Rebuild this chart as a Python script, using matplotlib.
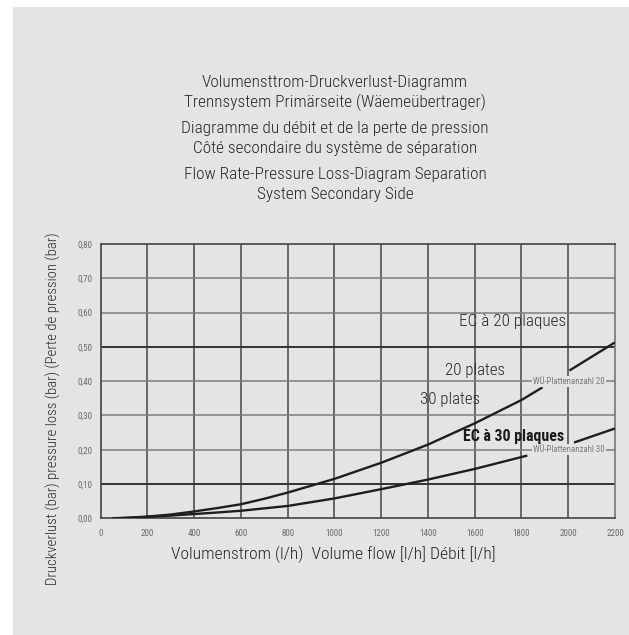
import matplotlib
matplotlib.use("Agg")
import matplotlib.pyplot as plt
from matplotlib import font_manager
from matplotlib.patches import Rectangle

# ---- data -------------------------------------------------------------
flow_20a = [50, 100, 200, 300, 400, 500, 600, 700, 800, 1000, 1200, 1400, 1600, 1800, 1890]
loss_20a = [0.0, 0.001, 0.005, 0.011, 0.020, 0.030, 0.041, 0.057, 0.075, 0.115, 0.162, 0.215, 0.277, 0.345, 0.382]
flow_20b = [2005, 2200]
loss_20b = [0.431, 0.513]

flow_30a = [50, 100, 200, 300, 400, 500, 600, 700, 800, 1000, 1200, 1400, 1600, 1825]
loss_30a = [0.0, 0.001, 0.004, 0.008, 0.0125, 0.017, 0.022, 0.029, 0.036, 0.058, 0.085, 0.113, 0.144, 0.183]
flow_30b = [2025, 2200]
loss_30b = [0.221, 0.262]

x_ticks = list(range(0, 2201, 200))
y_ticks = [0.0, 0.1, 0.2, 0.3, 0.4, 0.5, 0.6, 0.7, 0.8]
y_tick_labels = ["0,00", "0,10", "0,20", "0,30", "0,40", "0,50", "0,60", "0,70", "0,80"]
strong_rows = [0.1, 0.5]

title_lines = [
    "Volumensttrom-Druckverlust-Diagramm",
    "Trennsystem Primärseite (Wäemeübertrager)",
    "Diagramme du débit et de la perte de pression",
    "Côté secondaire du système de séparation",
    "Flow Rate-Pressure Loss-Diagram Separation",
    "System Secondary Side",
]
x_label = "Volumenstrom (l/h)  Volume flow [l/h] Débit [l/h]"
y_label = "Druckverlust (bar) pressure loss (bar) (Perte de pression (bar)"

# ---- fonts ------------------------------------------------------------
available = {f.name for f in font_manager.fontManager.ttflist}
narrow = None
for cand in ["Roboto Condensed", "Liberation Sans Narrow", "DejaVu Sans Condensed", "Open Sans Condensed"]:
    if cand in available:
        narrow = cand
        break
fam = [narrow, "DejaVu Sans"] if narrow else ["DejaVu Sans"]
plt.rcParams["font.family"] = fam

BG = "#e4e4e4"
TXT = "#262626"
W, H = 629, 635

fig = plt.figure(figsize=(W / 100, H / 100), dpi=100)
fig.patch.set_facecolor("white")
# grey panel with a narrow white margin on top and left
fig.add_artist(Rectangle((13 / W, 0), 1, 1 - 7 / H, transform=fig.transFigure,
                         facecolor=BG, edgecolor="none", zorder=-10))

ax = fig.add_axes([100.7 / W, 1 - 518.3 / H, (615 - 100.7) / W, (518.3 - 244) / H])
ax.set_facecolor(BG)
ax.set_xlim(0, 2200)
ax.set_ylim(0, 0.8)

# grid
for x in x_ticks[1:-1]:
    ax.axvline(x, color="#464646", lw=1.1, zorder=1)
for y in y_ticks[1:-1]:
    if y in strong_rows:
        ax.axhline(y, color="#333333", lw=1.4, zorder=1)
    else:
        ax.axhline(y, color="#7d7d7d", lw=1.1, zorder=1)
for side in ["left", "bottom", "top"]:
    ax.spines[side].set_color("#444444")
    ax.spines[side].set_linewidth(1.2)
ax.spines["right"].set_color("#777777")
ax.spines["right"].set_linewidth(1.2)

ax.set_xticks(x_ticks)
ax.set_xticklabels([str(v) for v in x_ticks])
ax.set_yticks(y_ticks)
ax.set_yticklabels(y_tick_labels)
ax.tick_params(length=0, labelsize=6.5, colors="#6a6a6a", pad=8)
ax.tick_params(axis="y", pad=6)

# curves
lc = "#1e1e1e"
for fx, fy in [(flow_20a, loss_20a), (flow_20b, loss_20b),
               (flow_30a, loss_30a), (flow_30b, loss_30b)]:
    ax.plot(fx, fy, color=lc, lw=1.7, zorder=3, solid_capstyle="butt",
            solid_joinstyle="round")

# small series tags sitting on the grid rows
tag = dict(fontsize=6.3, color="#7a7a7a", ha="center", va="center", zorder=4,
           bbox=dict(facecolor=BG, edgecolor="none", pad=0.8))
ax.text(2002, 0.40, "WÜ-Plattenanzahl 20", **tag)
ax.text(2002, 0.20, "WÜ-Plattenanzahl 30", **tag)

# multilingual curve labels
ax.text(1762, 0.573, "EC à 20 plaques", fontsize=12.4, color=TXT, ha="center", va="center",
        fontweight="light", zorder=5)
ax.text(1600, 0.43, "20 plates", fontsize=12.2, color=TXT, ha="center", va="center",
        fontweight="light", zorder=5)
ax.text(1495, 0.347, "30 plates", fontsize=12.2, color=TXT, ha="center", va="center",
        fontweight="light", zorder=5)
ax.text(1765, 0.239, "EC à 30 plaques", fontsize=11.4, color="#1a1a1a", ha="center",
        va="center", fontweight="bold", zorder=5)

# title block
title_y = [82.7, 102.7, 128.3, 148.3, 175, 195]
for line, yp in zip(title_lines, title_y):
    fig.text(335 / W, 1 - yp / H, line, ha="center", va="center", fontsize=12.4,
             color=TXT, fontweight="light")

fig.text(333 / W, 1 - 554 / H, x_label, ha="center", va="center", fontsize=12.6,
         color=TXT, fontweight="light")
fig.text(53 / W, 1 - 409 / H, y_label, ha="center", va="center", rotation=90,
         fontsize=10.6, color=TXT, fontweight="light")

fig.savefig("out.png", dpi=100, facecolor=fig.get_facecolor())
